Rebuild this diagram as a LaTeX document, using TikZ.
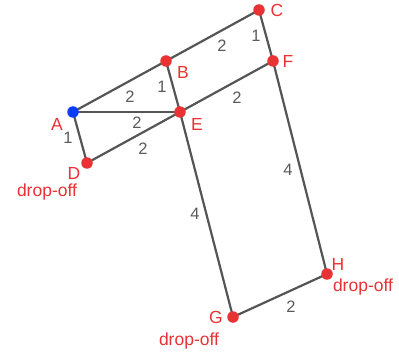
\documentclass[tikz,border=0pt]{standalone}
\usepackage{fontspec}
\setmainfont{Liberation Sans}
\definecolor{ptred}{RGB}{232,50,52}
\definecolor{ptblue}{RGB}{10,60,250}
\definecolor{edgegray}{RGB}{85,85,85}
\definecolor{numgray}{RGB}{90,90,90}
\begin{document}
\begin{tikzpicture}[x=1pt,y=-1pt,
  pt/.style={circle,fill=ptred,inner sep=0pt,minimum size=11.5pt},
  bluept/.style={circle,fill=ptblue,inner sep=0pt,minimum size=11.5pt},
  edge/.style={draw=edgegray,line width=2.2pt},
  wt/.style={text=numgray,font=\fontsize{16.5}{16.5}\selectfont,inner sep=0pt},
  lbl/.style={text=ptred,font=\fontsize{17.5}{17.5}\selectfont,inner sep=0pt}]
\useasboundingbox (0,0) rectangle (399,358);
\coordinate (A) at (73,112);
\coordinate (B) at (166,61);
\coordinate (C) at (259,10);
\coordinate (F) at (273,61);
\coordinate (E) at (180,112);
\coordinate (D) at (87,163);
\coordinate (G) at (233,317);
\coordinate (H) at (327,274);
\draw[edge] (A) -- (B);
\draw[edge] (B) -- (C);
\draw[edge] (C) -- (F);
\draw[edge] (B) -- (E);
\draw[edge] (A) -- (E);
\draw[edge] (E) -- (F);
\draw[edge] (A) -- (D);
\draw[edge] (D) -- (E);
\draw[edge] (E) -- (G);
\draw[edge] (F) -- (H);
\draw[edge] (G) -- (H);
\node[bluept] (nA) at (A) {};
\node[pt] (nB) at (B) {};
\node[pt] (nC) at (C) {};
\node[pt] (nF) at (F) {};
\node[pt] (nE) at (E) {};
\node[pt] (nD) at (D) {};
\node[pt] (nG) at (G) {};
\node[pt] (nH) at (H) {};
% weights
\node[wt] (wAB) at (130,97) {2};
\node[wt] (wBE) at (162,87) {1};
\node[wt] (wAE) at (137,123) {2};
\node[wt] (wAD) at (68,138) {1};
\node[wt] (wDE) at (143,149) {2};
\node[wt] (wBC) at (222,46) {2};
\node[wt] (wCF) at (256,36) {1};
\node[wt] (wEF) at (237,98) {2};
\node[wt] (wEG) at (195,214) {4};
\node[wt] (wFH) at (288,170) {4};
\node[wt] (wGH) at (291,307) {2};
% labels
\node[lbl] (lA) at (57,124) {A};
\node[lbl] (lB) at (183,72) {B};
\node[lbl] (lC) at (277,10) {C};
\node[lbl] (lF) at (288,61) {F};
\node[lbl] (lE) at (197,124) {E};
\node[lbl] (lD) at (74,173) {D};
\node[lbl] (dD) at (47,192) {drop-off};
\node[lbl] (lH) at (338,264) {H};
\node[lbl] (dH) at (363,287) {drop-off};
\node[lbl] (lG) at (216,317) {G};
\node[lbl] (dG) at (189,341) {drop-off};
\end{tikzpicture}
\end{document}
